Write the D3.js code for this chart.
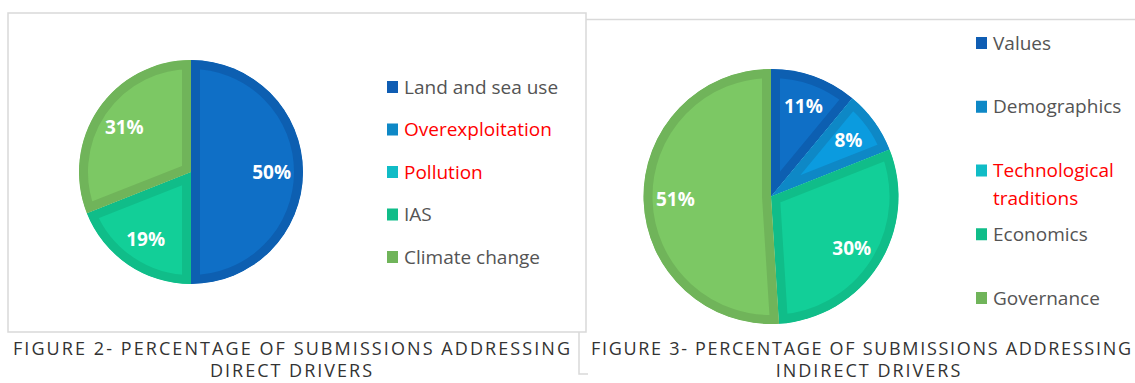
<!DOCTYPE html>
<html>
<head>
<meta charset="utf-8">
<script src="https://cdn.jsdelivr.net/npm/d3@7"></script>
<style>
  html, body { margin: 0; padding: 0; background: #ffffff; overflow: hidden; }
  svg { display: block; }
</style>
</head>
<body>
<svg id="chart" width="1135" height="383"></svg>
<script>
// ---- data ----
const directCategories = ["Land and sea use", "Overexploitation", "Pollution", "IAS", "Climate change"];
const directValues = [50, 0, 0, 19, 31];
const indirectCategories = ["Values", "Demographics", "Technological traditions", "Economics", "Governance"];
const indirectValues = [11, 8, 0, 30, 51];
const redCategories = ["Overexploitation", "Pollution", "Technological traditions"];
const captionDirect = ["FIGURE 2- PERCENTAGE OF SUBMISSIONS ADDRESSING", "DIRECT DRIVERS"];
const captionIndirect = ["FIGURE 3- PERCENTAGE OF SUBMISSIONS ADDRESSING", "INDIRECT DRIVERS"];

// ---- styles ----
const sliceFill   = ["#0f6fc6", "#0b9bdf", "#10c0ca", "#12cf98", "#7cc864"];
const sliceStroke = ["#0d5fb1", "#0e88c6", "#0fadb6", "#10bd89", "#70b45a"];
const legendColor = ["#0f5db3", "#0e88c6", "#10bcc6", "#10bd89", "#70b45a"];
const textGray = "#545454";
const borderGray = "#d9d9d9";
const uiFont = "'Open Sans', 'DejaVu Sans', sans-serif";

const svg = d3.select("#chart");

// ---- frames ----
const frames = svg.append("g").attr("fill", "none").attr("stroke", borderGray).attr("stroke-width", 1.5);
frames.append("path").attr("d", "M586,19.5H1135");
frames.append("path").attr("d", "M579,332V374H588");
svg.append("rect").attr("x", 8).attr("y", 13).attr("width", 578).attr("height", 319)
  .attr("fill", "#ffffff").attr("stroke", borderGray).attr("stroke-width", 1.5);

function drawPie(cfg) {
  const g = svg.append("g").attr("transform", `translate(${cfg.cx},${cfg.cy})`);
  const pie = d3.pie().sort(null).value(d => d.value);
  const arcs = pie(cfg.categories.map((c, i) => ({ name: c, value: cfg.values[i], i })));
  const arc = d3.arc().innerRadius(0).outerRadius(cfg.r);
  const labelArc = d3.arc().innerRadius(cfg.r * cfg.labelFactor).outerRadius(cfg.r * cfg.labelFactor);

  arcs.forEach((a, k) => {
    if (a.data.value <= 0) return;
    const id = `${cfg.id}-clip-${k}`;
    g.append("clipPath").attr("id", id).append("path").attr("d", arc(a));
    g.append("path")
      .attr("d", arc(a))
      .attr("fill", sliceFill[a.data.i])
      .attr("stroke", sliceStroke[a.data.i])
      .attr("stroke-width", cfg.band * 2)
      .attr("stroke-linejoin", "miter")
      .attr("clip-path", `url(#${id})`);
  });

  g.selectAll("text.lbl")
    .data(arcs.filter(a => a.data.value > 0))
    .enter().append("text")
    .attr("class", "lbl")
    .attr("transform", d => `translate(${labelArc.centroid(d)})`)
    .attr("text-anchor", "middle")
    .attr("dy", "0.36em")
    .attr("fill", "#ffffff")
    .attr("font-family", uiFont)
    .attr("font-weight", 700)
    .attr("font-size", 19)
    .text(d => d3.format(".0%")(d.data.value / d3.sum(cfg.values)));
}

function drawLegend(cfg) {
  const y = d3.scaleLinear().domain([0, cfg.categories.length - 1]).range(cfg.yRange);
  const g = svg.append("g");
  cfg.categories.forEach((c, i) => {
    const row = g.append("g").attr("transform", `translate(0,${y(i)})`);
    row.append("rect").attr("x", cfg.x).attr("y", -6).attr("width", 11).attr("height", 12)
      .attr("fill", legendColor[i]);
    const lines = cfg.wrap && cfg.wrap[c] ? cfg.wrap[c] : [c];
    const t = row.append("text")
      .attr("x", cfg.x + 17)
      .attr("font-family", uiFont)
      .attr("font-size", 19)
      .attr("fill", redCategories.includes(c) ? "#ff0000" : textGray);
    lines.forEach((ln, j) => {
      t.append("tspan").attr("x", cfg.x + 17).attr("y", j * 27.5).attr("dy", "0.35em").text(ln);
    });
  });
}

function drawCaption(lines, x1, width1, cx2) {
  const g = svg.append("g")
    .attr("font-family", uiFont)
    .attr("font-weight", 400)
    .attr("font-size", 18)
    .attr("fill", "#333333");
  g.append("text").attr("x", x1).attr("y", 355)
    .attr("textLength", width1).attr("lengthAdjust", "spacing").text(lines[0]);
  g.append("text").attr("x", cx2).attr("y", 377).attr("text-anchor", "middle")
    .attr("letter-spacing", 2).text(lines[1]);
}

drawPie({ id: "direct", categories: directCategories, values: directValues, cx: 191, cy: 172, r: 112, band: 9, labelFactor: 0.72 });
drawLegend({ categories: directCategories, x: 387, yRange: [87, 257] });

drawPie({ id: "indirect", categories: indirectCategories, values: indirectValues, cx: 771, cy: 196.5, r: 127.5, band: 9, labelFactor: 0.75 });
drawLegend({ categories: indirectCategories, x: 976, yRange: [43, 298], wrap: { "Technological traditions": ["Technological", "traditions"] } });

drawCaption(captionDirect, 13, 557, 292);
drawCaption(captionIndirect, 591, 540, 869);
</script>
</body>
</html>
